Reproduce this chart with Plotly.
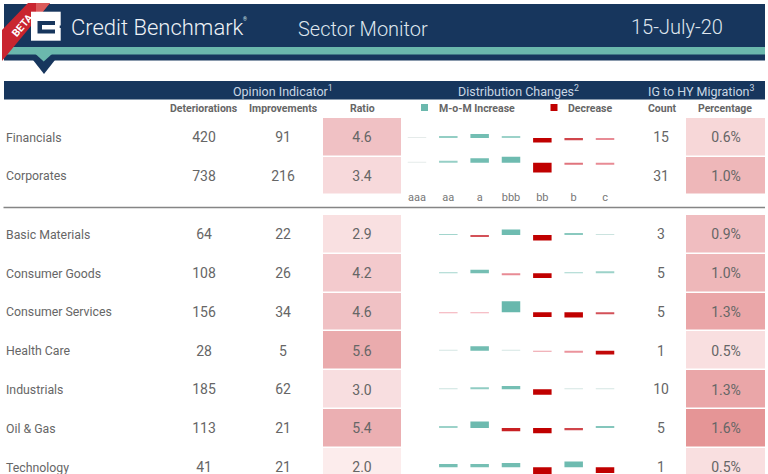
import plotly.graph_objects as go

W, H = 768, 474

# table data
top_rows = ["Financials", "Corporates"]
sector_rows = ["Basic Materials", "Consumer Goods", "Consumer Services", "Health Care",
               "Industrials", "Oil & Gas", "Technology"]

top_deter = [420, 738]
top_improv = [91, 216]
top_ratio = [4.6, 3.4]
top_count = [15, 31]
top_pct = [0.6, 1.0]

sector_deter = [64, 108, 156, 28, 185, 113, 41]
sector_improv = [22, 26, 34, 5, 62, 21, 21]
sector_ratio = [2.9, 4.2, 4.6, 5.6, 3.0, 5.4, 2.0]
sector_count = [3, 5, 5, 1, 10, 5, 1]
sector_pct = [0.9, 1.0, 1.3, 0.5, 1.3, 1.6, 0.5]

# distribution changes per rating bucket
buckets = ["aaa", "aa", "a", "bbb", "bb", "b", "c"]
dist_financials = [0.1, 1.5, 4.0, 1.2, -4.6, -2.3, -1.2]
dist_corporates = [0.1, 1.4, 4.4, 6.0, -9.7, -1.5, -1.2]
dist_basic = [0, 1.0, -2.0, 5.4, -5.6, 1.8, 0.4]
dist_goods = [0, 1.0, 3.6, -1.2, -4.8, 1.0, 1.2]
dist_services = [0, -0.8, -0.8, 11.0, -4.8, -5.2, -2.0]
dist_health = [0, 0.3, 4.4, 0.3, -1.0, -1.1, -3.8]
dist_industrials = [0, 0.4, 1.6, 3.4, -5.4, 0.3, 0.3]
dist_oil = [0, 1.2, 6.4, -3.2, -5.2, -2.3, 2.0]
dist_tech = [0, 3.2, 3.2, 4.4, -7.5, 5.8, -5.8]

NAVY = "#17365d"
TEAL = "#6bb8ad"
RED = "#c00000"
GREY = "#666666"

ratio_scale = [[0, "#fcecec"], [0.5, "#f5d3d6"], [1, "#eaabad"]]
pct_scale = [[0, "#f9dfe0"], [0.4, "#efbabd"], [1, "#e59596"]]
dist_scale = [[0, "#c00000"], [0.25, "#c00000"], [0.38, "#d4545c"], [0.45, "#f3aab4"],
              [0.5, "#eeeeee"], [0.55, "#a8d8d0"], [0.65, "#78c0b5"], [1, "#68b8ad"]]


def px_x(x):
    return x / W


def px_y(y):
    return 1 - y / H


def poly(points, color):
    path = "M " + " L ".join(f"{x},{y}" for x, y in points) + " Z"
    return dict(type="path", xref="x", yref="y9", path=path, fillcolor=color, line_width=0, layer="below")


def box(x0, y0, x1, y1, color, layer="below"):
    return dict(type="rect", xref="x", yref="y9", x0=x0, x1=x1, y0=y0, y1=y1,
                fillcolor=color, line_width=0, layer=layer)


def label(x, y, text, size=12, color=GREY, anchor="center", weight=None, family="Roboto", angle=0):
    return dict(xref="x", yref="y9", x=x, y=y, text=text, showarrow=False, xanchor=anchor, yanchor="middle",
                textangle=angle, font=dict(family=family, size=size, color=color, weight=weight))


fig = go.Figure()

# pixel axes for the frame, one category axis per heat column, one y axis per block
# y3 and y4 repeat the blocks a little lower because scatter text sits high in its row
layout_axes = dict(
    xaxis=dict(domain=[0, 1], range=[0, W], visible=False, fixedrange=True),
    yaxis9=dict(domain=[0, 1], range=[H, 0], visible=False, anchor="x", fixedrange=True),
    xaxis2=dict(domain=[px_x(323), px_x(401)], visible=False, anchor="y9"),
    xaxis3=dict(domain=[px_x(686), px_x(765)], visible=False, anchor="y9"),
    xaxis4=dict(domain=[px_x(401.3), px_x(620.7)], range=[-0.5, 6.5], type="category",
                categoryorder="array", categoryarray=buckets, anchor="free", position=px_y(189),
                showgrid=False, zeroline=False, showline=False, ticks="",
                tickfont=dict(family="Roboto", size=11, color="#777777")),
    yaxis=dict(domain=[px_y(195), px_y(118)], range=[1.5, -0.5], type="category",
               categoryorder="array", categoryarray=top_rows, visible=False, anchor="x"),
    yaxis2=dict(domain=[0, px_y(215)], range=[6.175, -0.5], type="category",
                categoryorder="array", categoryarray=sector_rows, visible=False, anchor="x"),
    yaxis3=dict(domain=[px_y(196.3), px_y(119.3)], range=[1.5, -0.5], type="category",
                categoryorder="array", categoryarray=top_rows, visible=False, anchor="x"),
    yaxis4=dict(domain=[0, px_y(216.3)], range=[6.142, -0.5], type="category",
                categoryorder="array", categoryarray=sector_rows, visible=False, anchor="x"),
)

# heat columns
for xa, name, top_vals, low_vals, scale, tpl in [
    ("x2", "Ratio", top_ratio, sector_ratio, ratio_scale, "%{z:.1f}"),
    ("x3", "Percentage", top_pct, sector_pct, pct_scale, "%{z:.1f}%"),
]:
    zmin, zmax = min(top_vals + low_vals), max(top_vals + low_vals)
    for ya, rows, vals in [("y", top_rows, top_vals), ("y2", sector_rows, low_vals)]:
        fig.add_trace(go.Heatmap(x=[name], y=rows, z=[[v] for v in vals], xaxis=xa, yaxis=ya,
                                 colorscale=scale, zmin=zmin, zmax=zmax, showscale=False, ygap=1.5,
                                 texttemplate=tpl, textfont=dict(family="Roboto", size=14, color=GREY)))

# plain number columns and row names
for ya, rows, deter, improv, count in [("y3", top_rows, top_deter, top_improv, top_count),
                                       ("y4", sector_rows, sector_deter, sector_improv, sector_count)]:
    for col_x, vals in [(204, deter), (283, improv), (661, count)]:
        fig.add_trace(go.Scatter(x=[col_x] * len(rows), y=rows, text=[str(v) for v in vals], mode="text",
                                 xaxis="x", yaxis=ya, cliponaxis=False,
                                 textfont=dict(family="Roboto", size=14, color=GREY)))
    fig.add_trace(go.Scatter(x=[6] * len(rows), y=rows, text=rows, mode="text", textposition="middle right",
                             xaxis="x", yaxis=ya, cliponaxis=False,
                             textfont=dict(family="Roboto", size=12.3, color=GREY)))

# one small bar chart per row
dist_rows = [(dist_financials, 138), (dist_corporates, 162.7), (dist_basic, 235), (dist_goods, 273.3),
             (dist_services, 312.3), (dist_health, 350.7), (dist_industrials, 389.3), (dist_oil, 428),
             (dist_tech, 467.3)]
for i, (vals, baseline) in enumerate(dist_rows):
    up = 13
    down = min(13, H - baseline)
    name = f"yaxis{i + 10}"
    layout_axes[name] = dict(domain=[px_y(baseline + down), px_y(baseline - up)], range=[-down, up],
                             visible=False, anchor="x4", fixedrange=True)
    fig.add_trace(go.Bar(x=buckets, y=vals, xaxis="x4", yaxis=f"y{i + 10}", width=0.59,
                         marker=dict(color=vals, colorscale=dist_scale, cmin=-8, cmax=8, line_width=0)))

# legend squares next to the sub headers
fig.add_trace(go.Scatter(x=[424.5, 554], y=[107.5, 107.5], mode="markers", xaxis="x", yaxis="y9",
                         marker=dict(symbol="square", size=7, color=[TEAL, RED])))

shapes = [
    box(4, 4, 765, 60.5, NAVY),
    box(4, 47, 765, 54.5, TEAL),
    poly([(33, 60), (55, 60), (44, 74)], NAVY),
    poly([(35.5, 54), (52, 54), (43.7, 61.5)], TEAL),
    poly([(28, 3), (50, 3), (2, 61), (2, 30)], "#c9252f"),
    poly([(36, 3), (50, 3), (36, 20)], "#db5a5a"),
    box(31, 11.7, 60.7, 40.7, "white"),
    box(37.5, 21, 55, 33.5, NAVY),
    box(42, 25, 55, 29.5, "white"),
    box(59.7, 25.5, 61, 28, NAVY),
    box(4, 81, 765, 99.5, NAVY),
    dict(type="line", xref="x", yref="y9", x0=3.5, x1=765, y0=207.5, y1=207.5,
         line=dict(color="#858585", width=1.5)),
]

annotations = [
    label(22, 25, "BETA", size=10.5, color="white", weight="bold", angle=-50),
    label(69, 27, "Credit Benchmark", size=22, color="#eef2f6", anchor="left", weight=300),
    label(245, 19, "®", size=5, color="#dfe6ee"),
    label(363, 28.5, "Sector Monitor", size=20, color="#dfe6ee", weight=300),
    label(677, 27, "15-July-20", size=20, color="#dfe6ee", weight=300),
    label(282.5, 91, "Opinion Indicator<sup>1</sup>", size=12.5, color="#c9d6e4"),
    label(518.5, 91, "Distribution Changes<sup>2</sup>", size=12.5, color="#c9d6e4"),
    label(701.5, 91, "IG to HY Migration<sup>3</sup>", size=12.5, color="#c9d6e4"),
    label(204, 108, "Deteriorations", size=10.5, weight="bold"),
    label(283, 108, "Improvements", size=10.5, weight="bold"),
    label(362, 108, "Ratio", size=10.5, weight="bold"),
    label(477, 108, "M-o-M Increase", size=10.5, weight="bold"),
    label(589.5, 108, "Decrease", size=10.5, weight="bold"),
    label(662, 108, "Count", size=10.5, weight="bold"),
    label(725, 108, "Percentage", size=10.5, weight="bold"),
]

fig.update_layout(width=W, height=H, margin=dict(l=0, r=0, t=0, b=0), autosize=False,
                  paper_bgcolor="white", plot_bgcolor="rgba(0,0,0,0)", showlegend=False,
                  barmode="overlay", shapes=shapes, annotations=annotations, **layout_axes)

# page default body margin would push the plot off the window
fig.write_html("out.html", config=dict(displayModeBar=False),
               post_script="document.body.style.margin='0';document.body.style.overflow='hidden';")
